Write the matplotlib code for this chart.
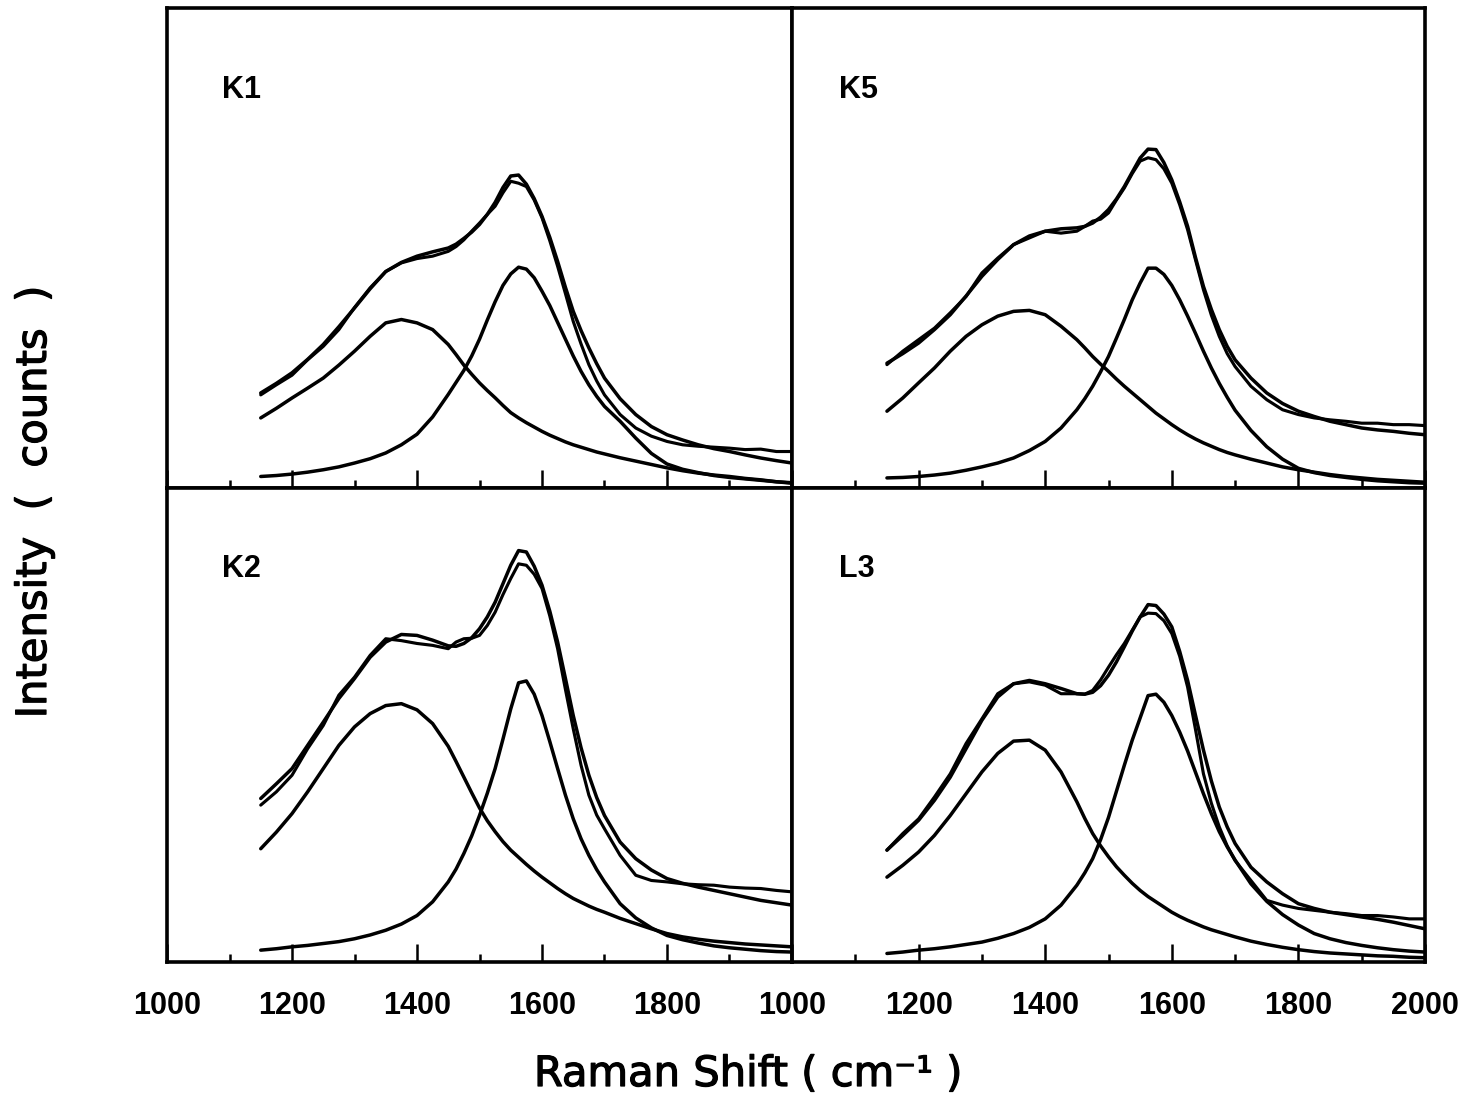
import matplotlib
matplotlib.use("Agg")
import matplotlib.pyplot as plt
from matplotlib.ticker import MultipleLocator
import matplotlib.patheffects as pe

plt.rcParams['font.family'] = ['Liberation Sans', 'DejaVu Sans']

# Raman shift grid (cm^-1)
shift = [1150, 1175, 1200, 1225, 1250, 1275, 1300, 1325, 1350, 1375, 1400, 1425, 1450,
         1462.5, 1475, 1487.5, 1500, 1512.5, 1525, 1537.5, 1550, 1562.5, 1575, 1587.5,
         1600, 1612.5, 1625, 1637.5, 1650, 1662.5, 1675, 1687.5, 1700,
         1725, 1750, 1775, 1800, 1825, 1850, 1875, 1900, 1925, 1950, 1975, 2000]

panel_names = ["K1", "K5", "K2", "L3"]
x_tick_labels_left = [1000, 1200, 1400, 1600, 1800]
x_tick_labels_right = [1000, 1200, 1400, 1600, 1800, 2000]

# ---- K1 ----
k1_data = [19.4, 21.5, 23.5, 26.7, 29.5, 33.0, 37.6, 41.7, 45.1, 46.9, 47.8, 48.3, 49.3,
           50.3, 51.7, 53.5, 55.2, 57.0, 58.7, 61.5, 63.9, 63.5, 62.8, 60.0,
           56.3, 51.5, 46.2, 40.5, 34.7, 30.0, 25.7, 22.3, 19.4,
           15.3, 12.5, 10.8, 9.7, 9.0, 8.7, 8.5, 8.3, 8.0, 8.1, 7.6, 7.6]
k1_fit = [19.8, 21.8, 24.0, 26.8, 29.9, 33.6, 37.5, 41.5, 45.1, 47.0, 48.3, 49.2, 50.0,
          50.8, 52.0, 53.3, 54.9, 57.0, 59.5, 62.6, 65.0, 65.2, 63.3, 60.3,
          56.6, 52.2, 47.2, 41.8, 36.8, 32.8, 29.2, 25.9, 22.9,
          18.6, 15.3, 12.8, 11.1, 10.0, 9.0, 8.2, 7.6, 6.9, 6.25, 5.7, 5.2]
k1_d = [14.6, 16.6, 18.75, 20.8, 22.9, 25.6, 28.5, 31.6, 34.4, 35.1, 34.4, 33.0, 29.9,
        27.8, 25.6, 23.7, 21.9, 20.3, 18.8, 17.2, 15.7, 14.6, 13.6, 12.7,
        11.8, 11.0, 10.3, 9.6, 9.0, 8.5, 8.0, 7.5, 7.1,
        6.3, 5.6, 4.9, 4.2, 3.6, 3.1, 2.7, 2.4, 2.0, 1.7, 1.3, 1.0]
k1_g = [2.4, 2.6, 2.9, 3.3, 3.8, 4.4, 5.2, 6.1, 7.3, 9.0, 11.2, 14.8, 19.5,
        22.0, 24.5, 27.5, 31.0, 35.0, 38.8, 42.2, 44.6, 46.0, 45.6, 43.8,
        41.0, 38.0, 34.5, 31.0, 27.5, 24.3, 21.5, 19.1, 17.0,
        13.9, 10.4, 7.2, 5.0, 3.9, 3.2, 2.6, 2.2, 1.9, 1.6, 1.3, 1.1]

# ---- K5 ----
k5_data = [25.7, 28.5, 30.9, 33.3, 36.5, 39.9, 44.8, 47.9, 50.7, 52.1, 53.5, 53.1, 53.5,
           54.5, 55.6, 56.0, 57.3, 60.0, 62.5, 65.5, 68.1, 68.8, 68.4, 66.5,
           63.5, 59.0, 53.8, 47.5, 41.3, 36.0, 31.6, 28.0, 25.3,
           21.2, 18.4, 16.3, 15.3, 14.6, 14.2, 13.9, 13.5, 13.5, 13.2, 13.2, 13.0]
k5_fit = [26.0, 28.0, 30.2, 33.0, 36.1, 40.0, 44.1, 47.6, 50.7, 52.5, 53.5, 54.0, 54.2,
          54.5, 55.2, 56.4, 58.0, 60.2, 62.8, 65.8, 68.75, 70.6, 70.5, 67.8,
          64.2, 59.6, 54.5, 48.0, 42.0, 37.2, 33.0, 29.5, 26.7,
          22.9, 19.8, 17.6, 16.0, 14.9, 13.9, 13.2, 12.5, 12.1, 11.8, 11.4, 11.1]
k5_d = [16.0, 18.75, 21.9, 25.0, 28.5, 31.6, 34.0, 35.8, 36.8, 37.0, 36.1, 33.7, 30.9,
        29.2, 27.4, 25.8, 24.3, 22.7, 21.2, 19.8, 18.4, 17.0, 15.6, 14.4,
        13.2, 12.1, 11.1, 10.2, 9.4, 8.7, 8.0, 7.4, 6.9,
        6.0, 5.2, 4.4, 3.8, 3.3, 2.8, 2.4, 2.1, 1.8, 1.6, 1.4, 1.2]
k5_g = [2.1, 2.2, 2.4, 2.7, 3.1, 3.7, 4.4, 5.2, 6.25, 7.8, 9.7, 12.5, 16.3,
        18.6, 21.2, 24.2, 27.4, 31.2, 35.1, 39.2, 42.7, 45.8, 45.8, 44.5,
        42.2, 39.2, 35.8, 32.2, 28.5, 25.0, 21.8, 18.9, 16.2,
        12.0, 8.6, 6.0, 4.1, 3.2, 2.6, 2.2, 1.8, 1.5, 1.3, 1.1, 1.0]

# ---- K2 ----
k2_data = [33.1, 35.9, 39.4, 45.0, 49.9, 56.3, 60.1, 64.7, 68.2, 67.8, 67.2, 66.8, 66.1,
           67.5, 68.2, 68.3, 68.9, 71.0, 73.8, 77.5, 80.9, 84.0, 83.7, 81.8,
           78.8, 73.0, 66.1, 57.5, 49.2, 41.5, 35.2, 31.0, 28.1,
           22.5, 18.3, 17.2, 16.9, 16.5, 16.3, 16.2, 15.8, 15.6, 15.5, 15.1, 14.8]
k2_fit = [34.5, 37.6, 40.8, 45.7, 50.6, 55.6, 59.8, 64.3, 67.5, 69.1, 68.9, 67.9, 66.7,
          66.6, 67.2, 68.4, 70.3, 72.8, 75.9, 79.8, 83.7, 86.8, 86.5, 83.5,
          79.5, 74.0, 67.5, 59.8, 52.0, 45.2, 39.4, 34.7, 30.9,
          25.3, 21.8, 19.4, 17.6, 16.6, 15.8, 15.1, 14.4, 13.7, 13.0, 12.5, 12.0]
k2_d = [23.9, 27.4, 31.3, 35.9, 40.8, 45.7, 49.6, 52.4, 54.1, 54.5, 53.2, 50.3, 45.5,
        42.3, 39.0, 35.7, 32.5, 29.8, 27.5, 25.4, 23.6, 22.1, 20.6, 19.2,
        17.9, 16.7, 15.5, 14.4, 13.4, 12.6, 11.8, 11.1, 10.5,
        9.2, 8.1, 7.0, 6.0, 5.3, 4.8, 4.4, 4.1, 3.8, 3.6, 3.4, 3.2]
k2_g = [2.5, 2.8, 3.2, 3.5, 3.9, 4.3, 4.9, 5.7, 6.7, 8.0, 9.8, 12.7, 16.9,
        19.6, 22.9, 26.6, 30.9, 35.6, 40.8, 47.0, 53.4, 58.9, 59.3, 56.5,
        52.0, 46.5, 40.8, 35.2, 30.2, 26.0, 22.5, 19.5, 16.9,
        12.3, 9.3, 7.2, 5.6, 4.7, 4.0, 3.4, 3.0, 2.7, 2.4, 2.2, 2.1]

# ---- L3 ----
l3_data = [23.6, 27.1, 30.2, 34.8, 39.7, 46.1, 51.3, 56.6, 58.7, 59.1, 58.4, 56.6, 56.6,
           56.5, 57.3, 59.5, 62.2, 64.8, 67.2, 70.0, 72.8, 73.6, 73.5, 72.0,
           69.3, 64.5, 58.0, 49.0, 39.7, 33.5, 28.5, 24.5, 21.4,
           17.2, 13.0, 12.0, 11.3, 10.9, 10.5, 10.2, 9.8, 9.8, 9.5, 9.1, 9.1]
l3_fit = [23.6, 26.7, 29.9, 34.1, 39.0, 45.0, 51.0, 55.9, 58.7, 59.4, 58.7, 57.7, 56.6,
          56.5, 56.9, 58.3, 60.5, 63.3, 66.5, 69.8, 72.8, 75.4, 75.2, 73.4,
          70.7, 65.5, 59.4, 52.0, 44.7, 38.2, 32.7, 28.5, 25.0,
          20.0, 16.9, 14.4, 12.3, 11.3, 10.5, 10.0, 9.5, 9.0, 8.4, 7.7, 7.0]
l3_d = [17.9, 20.4, 23.2, 26.7, 30.9, 35.5, 40.1, 44.0, 46.6, 46.8, 44.7, 40.1, 33.8,
        30.3, 27.1, 24.5, 22.2, 20.1, 18.3, 16.6, 15.1, 13.8, 12.7, 11.6,
        10.5, 9.6, 8.8, 8.1, 7.4, 6.8, 6.3, 5.8, 5.3,
        4.4, 3.7, 3.1, 2.6, 2.2, 1.9, 1.7, 1.5, 1.3, 1.2, 1.0, 0.9]
l3_g = [1.8, 2.1, 2.5, 2.8, 3.2, 3.7, 4.2, 5.0, 6.0, 7.3, 9.1, 12.0, 16.2,
        18.8, 21.8, 25.8, 30.5, 36.0, 41.5, 46.8, 51.5, 56.2, 56.5, 54.8,
        52.0, 48.5, 44.5, 40.0, 35.5, 31.3, 27.5, 24.3, 21.5,
        16.5, 12.8, 10.0, 7.8, 6.0, 4.9, 4.1, 3.5, 3.0, 2.6, 2.3, 2.1]

panels = [
    (k1_data, k1_fit, k1_d, k1_g),
    (k5_data, k5_fit, k5_d, k5_g),
    (k2_data, k2_fit, k2_d, k2_g),
    (l3_data, l3_fit, l3_d, l3_g),
]

W, H = 1482, 1118
fig = plt.figure(figsize=(W / 100, H / 100), dpi=100)

xl, xm, xr = 167, 792, 1425
yt, ym, yb = 8, 488, 962
rects = [
    (xl, yt, xm - xl, ym - yt),
    (xm, yt, xr - xm, ym - yt),
    (xl, ym, xm - xl, yb - ym),
    (xm, ym, xr - xm, yb - ym),
]

lw = 2.5
for i, ((px, py, pw, ph), name, curves) in enumerate(zip(rects, panel_names, panels)):
    ax = fig.add_axes([px / W, 1 - (py + ph) / H, pw / W, ph / H])
    data, fit, dband, gband = curves
    for ys, w in ((gband, lw), (dband, lw), (fit, lw), (data, lw * 0.9)):
        ax.plot(shift, ys, color='black', lw=w, solid_joinstyle='round',
                solid_capstyle='round')
    ax.set_xlim(1000, 2000)
    ax.set_ylim(0, 100)
    for s in ax.spines.values():
        s.set_linewidth(2.6)
        s.set_color('black')
    ax.set_yticks([])
    ax.xaxis.set_major_locator(MultipleLocator(200))
    ax.xaxis.set_minor_locator(MultipleLocator(100))
    ax.tick_params(axis='x', which='major', direction='in', length=13, width=1.8,
                   top=False, bottom=True, pad=21)
    ax.tick_params(axis='x', which='minor', direction='in', length=6, width=1.8,
                   top=False, bottom=True)
    if i >= 2:
        ticks = x_tick_labels_left if i == 2 else x_tick_labels_right
        ax.set_xticks(ticks)
        ax.set_xticklabels([str(t) for t in ticks], fontsize=22, fontweight='bold')
        ax.xaxis.set_minor_locator(MultipleLocator(100))
    else:
        ax.tick_params(axis='x', labelbottom=False)
    ax.text(0.088 if i % 2 == 0 else 0.074, 0.829, name, transform=ax.transAxes,
            fontsize=22, fontweight='bold', va='center', ha='left')

stroke = [pe.withStroke(linewidth=0.9, foreground='black')]
fig.text(748 / W, 1 - 1074 / H, 'Raman Shift ( cm\u207b\u00b9 )',
         fontsize=30, family='DejaVu Sans', ha='center', va='center',
         path_effects=stroke)
fig.text(34 / W, 1 - 502 / H, 'Intensity  (  counts  )', fontsize=30,
         family='DejaVu Sans', rotation=90, ha='center', va='center',
         path_effects=stroke)

fig.savefig('out.png', dpi=100, facecolor='white')
